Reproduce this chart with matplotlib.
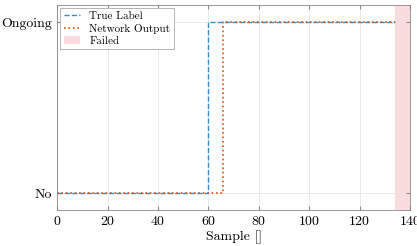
import matplotlib
matplotlib.use("Agg")
import matplotlib.pyplot as plt

plt.rcParams['font.family'] = ['cmr10', 'DejaVu Serif']
plt.rcParams['mathtext.fontset'] = 'cm'
plt.rcParams['axes.formatter.use_mathtext'] = True

# dados (pontos de mudança, desenhados em degrau)
true_x = [0, 60, 134]
true_y = [0, 1, 1]
net_x = [0, 66, 134]
net_y = [0, 1, 1]
failed_span = (134, 140)
yticks = [0, 1]
ylabels = ['No', 'Ongoing']
xticks = [0, 20, 40, 60, 80, 100, 120, 140]

fig = plt.figure(figsize=(4.17, 2.46), dpi=100)
ax = fig.add_axes([0.137, 0.146, 0.846, 0.834])

ax.step(true_x, true_y, where='post', color='#2f8fd0', ls='--', lw=1.0, label='True Label')
ax.step(net_x, net_y, where='post', color='#d95319', ls=':', lw=1.2, label='Network Output')
ax.axvspan(*failed_span, color='#f7c6c8', alpha=0.6, lw=0, label='Failed')

ax.set_xlim(0, 140)
ax.set_ylim(-0.1, 1.1)
ax.set_xticks(xticks)
ax.set_yticks(yticks)
ax.set_yticklabels(ylabels)
ax.set_xlabel('Sample []', fontsize=10, labelpad=2)
ax.tick_params(direction='in', labelsize=10, length=3, color='#888888', top=True, right=True)
ax.grid(True, color='#e6e6e6', lw=0.6)
for s in ax.spines.values():
    s.set_color('#888888')
    s.set_linewidth(0.6)

leg = ax.legend(loc='upper left', fontsize=8, handlelength=1.5, borderpad=0.3,
                labelspacing=0.2, fancybox=False, framealpha=1, borderaxespad=0.3)
leg.get_frame().set_edgecolor('#aaaaaa')
leg.get_frame().set_linewidth(0.6)

fig.savefig('out.png', dpi=100)
